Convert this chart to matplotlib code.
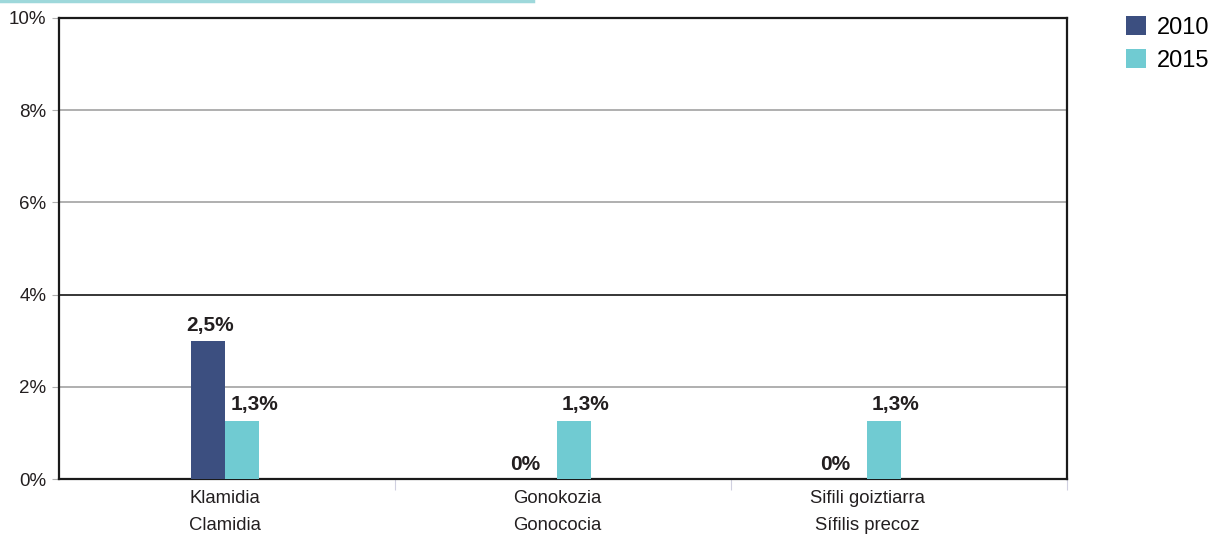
import numpy as np
import matplotlib.pyplot as plt
from matplotlib.lines import Line2D

plt.rcParams['font.family'] = ['Liberation Sans', 'DejaVu Sans']

kategoriak = ['Klamidia\nClamidia', 'Gonokozia\nGonococia', 'Sifili goiztiarra\nSífilis precoz']
balioak_2010 = [3.0, 0.0, 0.0]
balioak_2015 = [1.25, 1.25, 1.25]
etiketak_2010 = ['2,5%', '0%', '0%']
etiketak_2015 = ['1,3%', '1,3%', '1,3%']
y_ticks = [0, 2, 4, 6, 8, 10]

kolore_2010 = '#3c4f80'
kolore_2015 = '#70cbd2'

fig = plt.figure(figsize=(12.13, 5.34), dpi=100)
ax = fig.add_axes([59 / 1213, 55 / 534, 1008 / 1213, 461 / 534])

# taldeen kokapena (jatorrizkoan ez daude guztiz berdin banatuta)
x = np.array([-0.005, 0.982, 1.905])
w = 0.101
ax.bar(x - w / 2, balioak_2010, w, color=kolore_2010, label='2010', zorder=3)
ax.bar(x + w / 2, balioak_2015, w, color=kolore_2015, label='2015', zorder=3)

for i in range(len(kategoriak)):
    if balioak_2010[i] == 0:
        ax.text(x[i] - w / 2, 0.2, etiketak_2010[i], ha='right', va='baseline',
                fontsize=15, fontweight='bold', color='#231f20')
    else:
        ax.text(x[i] - w / 2 + 0.005, balioak_2010[i] + 0.2, etiketak_2010[i], ha='center',
                va='baseline', fontsize=15, fontweight='bold', color='#231f20')
    ax.text(x[i] + w / 2 + 0.035, balioak_2015[i] + 0.24, etiketak_2015[i], ha='center', va='baseline',
            fontsize=15, fontweight='bold', color='#231f20')

ax.set_xlim(-0.5, 2.5)
ax.set_ylim(0, 10)
ax.set_yticks(y_ticks)
ax.set_yticklabels([f'{t}%' for t in y_ticks], fontsize=13.5, color='#231f20')

# ardatz horizontaleko lerroak
for t in y_ticks[1:-1]:
    kol = 'black' if t == 4 else '#9a9a9a'
    ax.axhline(t, color=kol, lw=1.1, zorder=1)

ax.set_xticks([0.5, 1.5, 2.5])
ax.set_xticklabels([])
ax.set_xticks(x, minor=True)
ax.set_xticklabels(kategoriak, minor=True, fontsize=13.3, color='#231f20', linespacing=1.75)
ax.tick_params(axis='x', which='minor', length=0, pad=8)
ax.tick_params(axis='x', which='major', length=8, color='#d0d0e0', direction='out')
ax.tick_params(axis='y', length=5, color='#b0b0b0', pad=4)

for s in ax.spines.values():
    s.set_color('#1a1a1a')
    s.set_linewidth(1.6)

ax.legend(loc='upper left', bbox_to_anchor=(1.049, 1.025), frameon=False, fontsize=17,
          handlelength=0.85, handleheight=0.85, handletextpad=0.45, labelspacing=0.45,
          borderaxespad=0)

fig.add_artist(Line2D([0, 533 / 1213], [0.998, 0.998], color='#9ed8db', lw=2.5,
                      transform=fig.transFigure))

plt.savefig('out.png', dpi=100)
